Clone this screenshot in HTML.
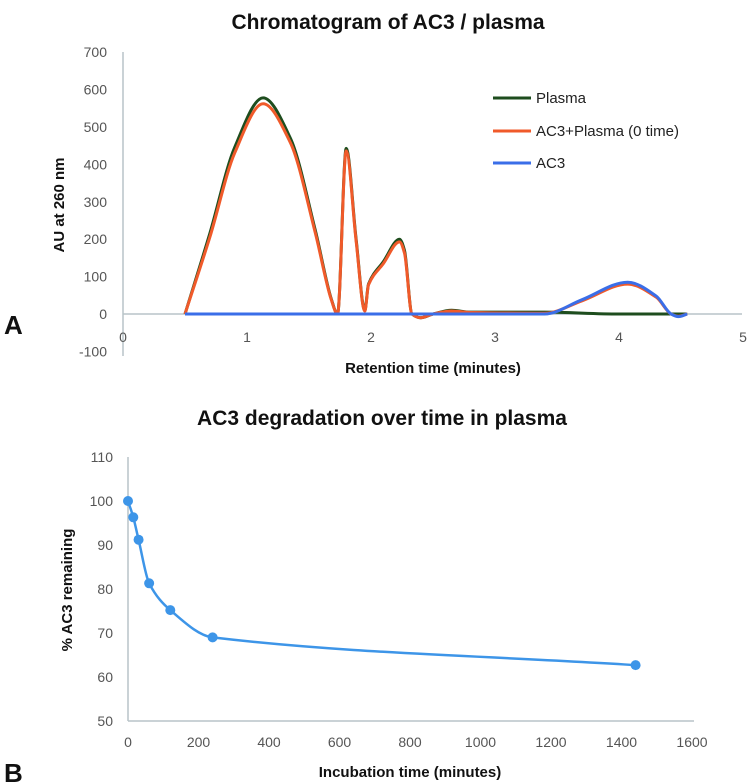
<!DOCTYPE html>
<html><head><meta charset="utf-8"><style>
body{margin:0;background:#fff;}
svg{display:block;font-family:"Liberation Sans",sans-serif;}
.t{fill:#555;font-size:14px;}
.ttl{font-weight:bold;font-size:21px;fill:#111;}
.ax{font-weight:bold;font-size:15px;fill:#111;}
</style></head><body>
<svg id="s" width="748" height="784" viewBox="0 0 748 784">
<text class="ttl" x="388" y="29" text-anchor="middle">Chromatogram of AC3 / plasma</text>
<text class="ttl" x="382" y="425" text-anchor="middle">AC3 degradation over time in plasma</text>
<text x="4" y="334" font-weight="bold" font-size="26" fill="#111">A</text>
<text x="4" y="782" font-weight="bold" font-size="26" fill="#111">B</text>
<text class="ax" x="433" y="373" text-anchor="middle">Retention time (minutes)</text>
<text class="ax" transform="translate(64,205) rotate(-90)" text-anchor="middle">AU at 260 nm</text>
<text class="ax" x="410" y="777" text-anchor="middle">Incubation time (minutes)</text>
<text class="ax" transform="translate(72,590) rotate(-90)" text-anchor="middle">% AC3 remaining</text>
<g id="ga"></g><g id="gb"></g>
<g>
<line x1="493" y1="98" x2="531" y2="98" stroke="#1e4d1e" stroke-width="3"/><text x="536" y="103" font-size="15" fill="#222">Plasma</text>
<line x1="493" y1="131" x2="531" y2="131" stroke="#f05a2a" stroke-width="3"/><text x="536" y="136" font-size="15" fill="#222">AC3+Plasma (0 time)</text>
<line x1="493" y1="163" x2="531" y2="163" stroke="#3a6ee8" stroke-width="3"/><text x="536" y="168" font-size="15" fill="#222">AC3</text>
</g>
</svg>
<script>
const aXTicks=[0,1,2,3,4,5];
const aYTicks=[-100,0,100,200,300,400,500,600,700];
const plasmaX=[0.5,0.7,0.9,1.13,1.35,1.55,1.68,1.73,1.8,1.88,1.95,1.98,2.1,2.23,2.27,2.33,2.4,2.5,2.65,2.8,3.4,4.0,4.55];
const plasmaY=[0,215,445,578,470,225,40,0,443,200,10,80,140,200,170,0,-10,0,10,5,5,0,0];
const mixX=[0.5,0.7,0.9,1.13,1.35,1.55,1.68,1.73,1.8,1.88,1.95,1.98,2.1,2.23,2.27,2.33,2.4,2.5,2.65,2.8,3.4,3.7,4.07,4.3,4.42,4.48,4.55];
const mixY=[0,205,430,562,458,218,38,0,436,195,8,78,135,193,163,0,-10,0,8,4,2,35,80,45,0,-6,0];
const ac3X=[0.5,3.4,3.7,4.07,4.3,4.42,4.48,4.55];
const ac3Y=[0,0,38,85,48,0,-7,0];
const bXTicks=[0,200,400,600,800,1000,1200,1400,1600];
const bYTicks=[50,60,70,80,90,100,110];
const timeX=[0,15,30,60,120,240,1440];
const remainY=[100,96.3,91.2,81.3,75.2,69,62.7];
const NS="http://www.w3.org/2000/svg";
function mk(p,tag,at){const e=document.createElementNS(NS,tag);for(const k in at)e.setAttribute(k,at[k]);p.appendChild(e);return e;}
function mono(pts){const n=pts.length,d=[],m=[];
for(let i=0;i<n-1;i++)d.push((pts[i+1][1]-pts[i][1])/(pts[i+1][0]-pts[i][0]));
for(let i=0;i<n;i++){if(i==0)m.push(d[0]);else if(i==n-1)m.push(d[n-2]);else m.push(d[i-1]*d[i]<=0?0:2/(1/d[i-1]+1/d[i]));}
let s="M"+pts[0][0]+","+pts[0][1];
for(let i=0;i<n-1;i++){const h=(pts[i+1][0]-pts[i][0])/3;
s+=" C"+(pts[i][0]+h)+","+(pts[i][1]+m[i]*h)+" "+(pts[i+1][0]-h)+","+(pts[i+1][1]-m[i+1]*h)+" "+pts[i+1][0]+","+pts[i+1][1];}
return s;}
// chart A
const ax=v=>123+v*124.0, ay=v=>314-v*0.374;
const ga=document.getElementById('ga');
const axl=mk(ga,'line',{x1:123,y1:52,x2:123,y2:356,stroke:'#b8c4c8','stroke-width':1.5});


const axx=mk(ga,'line',{x1:123,y1:ay(0),x2:742,y2:ay(0),stroke:'#b8c4c8','stroke-width':1.5});


aYTicks.forEach(v=>{const t=mk(ga,'text',{x:107,y:ay(v)+5,'text-anchor':'end',class:'t'});t.textContent=v;

});
aXTicks.forEach(v=>{const t=mk(ga,'text',{x:ax(v),y:342,'text-anchor':'middle',class:'t'});t.textContent=v;

});
[[plasmaX,plasmaY,'#1e4d1e','plasma-line'],[mixX,mixY,'#f05a2a','ac3-plasma-line'],[ac3X,ac3Y,'#3a6ee8','ac3-line']].forEach(s=>{
const pts=s[0].map((x,i)=>[ax(x),ay(s[1][i])]);
const p=mk(ga,'path',{d:mono(pts),fill:'none',stroke:s[2],'stroke-width':3,'stroke-linejoin':'round'});

});
// chart B
const bx=v=>128+v*0.3525, by=v=>721-(v-50)*4.4;
const gb=document.getElementById('gb');
const byl=mk(gb,'line',{x1:128,y1:by(110),x2:128,y2:by(50),stroke:'#b8c4c8','stroke-width':1.5});


const bxl=mk(gb,'line',{x1:128,y1:by(50),x2:694,y2:by(50),stroke:'#b8c4c8','stroke-width':1.5});


bYTicks.forEach(v=>{const t=mk(gb,'text',{x:113,y:by(v)+5,'text-anchor':'end',class:'t'});t.textContent=v;

});
bXTicks.forEach(v=>{const t=mk(gb,'text',{x:bx(v),y:747,'text-anchor':'middle',class:'t'});t.textContent=v;

});
const bp=timeX.map((x,i)=>[bx(x),by(remainY[i])]);
const bl=mk(gb,'path',{d:mono(bp),fill:'none',stroke:'#3d95e8','stroke-width':2.5});


bp.forEach(p=>{const c=mk(gb,'circle',{cx:p[0],cy:p[1],r:5,fill:'#3d95e8'});

});
</script>
</body></html>
